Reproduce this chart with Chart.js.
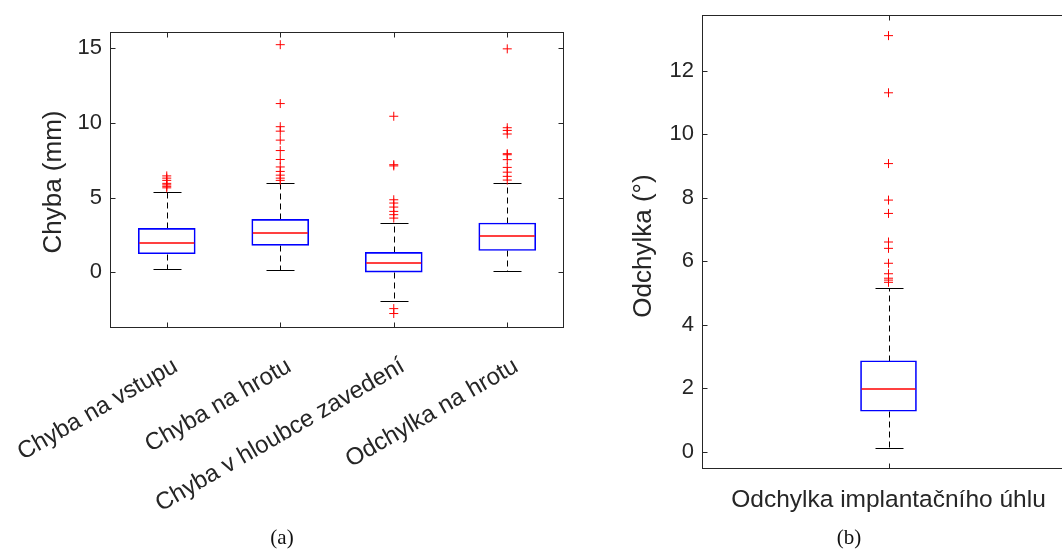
<!DOCTYPE html>
<html>
<head>
<meta charset="utf-8">
<script src="https://cdn.jsdelivr.net/npm/chart.js@4.4.1/dist/chart.umd.min.js"></script>
<style>
  html, body { margin: 0; padding: 0; background: #fff; overflow: hidden; }
  #wrap { position: relative; width: 1062px; height: 549px; overflow: hidden; }
  #boxA { position: absolute; left: 0; top: 0; }
  #boxB { position: absolute; left: 600px; top: 0; }
  .cap { position: absolute; top: 525px; width: 80px; text-align: center;
         font: 21px "Liberation Serif", "DejaVu Serif", serif; color: #111; }
</style>
</head>
<body>
<div id="wrap">
  <canvas id="boxA" width="600" height="549"></canvas>
  <canvas id="boxB" width="490" height="549"></canvas>
  <div class="cap" style="left:242px">(a)</div>
  <div class="cap" style="left:809px">(b)</div>
</div>
<script>
// --- (a) chyby polohy ---
const labelsA = ['Chyba na vstupu', 'Chyba na hrotu', 'Chyba v hloubce zavedení', 'Odchylka na hrotu'];
const q1A = [1.23, 1.79, 0.0, 1.45];
const medA = [1.92, 2.62, 0.62, 2.42];
const q3A = [2.93, 3.53, 1.32, 3.29];
const whiskLoA = [0.2, 0.15, -1.97, 0.04];
const whiskHiA = [5.39, 5.97, 3.29, 5.97];
const outliersA = [
  [6.45, 6.3, 6.15, 5.95, 5.85, 5.75, 5.65],
  [15.25, 11.3, 9.75, 9.45, 8.85, 8.15, 7.55, 7.05, 6.75, 6.5, 6.3, 6.15],
  [10.45, 7.2, 7.12, 4.85, 4.63, 4.36, 4.07, 3.85, 3.62, -2.45, -2.78],
  [14.97, 9.68, 9.5, 9.26, 7.94, 7.87, 7.54, 7.02, 6.7, 6.42, 6.17]
];
const yTicksA = [0, 5, 10, 15];
const yRangeA = [-3.75, 16.1];

// --- (b) odchylka uhlu ---
const labelsB = ['Odchylka implantačního úhlu'];
const q1B = [1.27];
const medB = [1.97];
const q3B = [2.86];
const whiskLoB = [0.1];
const whiskHiB = [5.16];
const outliersB = [
  [13.1, 11.3, 9.07, 7.92, 7.5, 6.6, 6.4, 5.93, 5.6, 5.46, 5.4, 5.33]
];
const yTicksB = [0, 2, 4, 6, 8, 10, 12];
const yRangeB = [-0.55, 13.75];

const FONT = '"Liberation Sans", Arial, Helvetica, sans-serif';
const AXIS_COLOR = '#262626';

// whiskers, caps, medians, axes box and y label (matlab style)
function boxParts(stats) {
  return {
    id: 'boxParts',
    beforeDatasetsDraw(chart) {
      const { ctx, scales: { x, y } } = chart;
      ctx.save();
      ctx.strokeStyle = '#000';
      ctx.lineWidth = 1;
      stats.labels.forEach((lab, i) => {
        const px = Math.round(x.getPixelForValue(i)) + 0.5;
        const py = v => Math.round(y.getPixelForValue(v)) + 0.5;
        ctx.setLineDash([6, 4]);
        ctx.beginPath();
        ctx.moveTo(px, py(stats.q3[i]));
        ctx.lineTo(px, py(stats.hi[i]));
        ctx.moveTo(px, py(stats.q1[i]));
        ctx.lineTo(px, py(stats.lo[i]));
        ctx.stroke();
        ctx.setLineDash([]);
        ctx.beginPath();
        ctx.moveTo(px - stats.capHalf, py(stats.hi[i]));
        ctx.lineTo(px + stats.capHalf, py(stats.hi[i]));
        ctx.moveTo(px - stats.capHalf, py(stats.lo[i]));
        ctx.lineTo(px + stats.capHalf, py(stats.lo[i]));
        ctx.stroke();
      });
      ctx.restore();
    },
    afterDatasetsDraw(chart) {
      const { ctx, scales: { x, y } } = chart;
      ctx.save();
      ctx.strokeStyle = '#ff0000';
      ctx.lineWidth = 1.6;
      stats.labels.forEach((lab, i) => {
        const px = x.getPixelForValue(i);
        const my = Math.round(y.getPixelForValue(stats.med[i]));
        ctx.beginPath();
        ctx.moveTo(px - stats.boxHalf + 1, my);
        ctx.lineTo(px + stats.boxHalf - 1, my);
        ctx.stroke();
      });
      ctx.restore();
    },
    afterDraw(chart) {
      const { ctx, chartArea: a, scales: { x, y } } = chart;
      const L = Math.round(a.left) + 0.5, R = Math.round(a.right) - 0.5;
      const T = Math.round(a.top) + 0.5, B = Math.round(a.bottom) - 0.5;
      const tl = 5;
      ctx.save();
      ctx.strokeStyle = AXIS_COLOR;
      ctx.lineWidth = 1;
      ctx.strokeRect(L, T, R - L, B - T);
      ctx.beginPath();
      y.ticks.forEach(t => {
        const ty = Math.round(y.getPixelForValue(t.value)) + 0.5;
        ctx.moveTo(L, ty); ctx.lineTo(L + tl, ty);
        ctx.moveTo(R, ty); ctx.lineTo(R - tl, ty);
      });
      stats.labels.forEach((lab, i) => {
        const tx = Math.round(x.getPixelForValue(i)) + 0.5;
        ctx.moveTo(tx, B); ctx.lineTo(tx, B - tl);
        ctx.moveTo(tx, T); ctx.lineTo(tx, T + tl);
      });
      ctx.stroke();

      // y axis label, rotated
      ctx.translate(stats.titleX, (a.top + a.bottom) / 2 + stats.titleShift);
      ctx.rotate(-Math.PI / 2);
      ctx.fillStyle = AXIS_COLOR;
      ctx.font = '26px ' + FONT;
      ctx.textAlign = 'center';
      ctx.textBaseline = 'middle';
      ctx.fillText(stats.yTitle, 0, 0);
      ctx.restore();
    }
  };
}

function makeBoxChart(id, s) {
  const outlierPts = [];
  s.outliers.forEach((list, i) => list.forEach(v => outlierPts.push({ x: s.labels[i], y: v })));

  return new Chart(document.getElementById(id), {
    type: 'bar',
    data: {
      labels: s.labels,
      datasets: [
        {
          type: 'bar',
          data: s.labels.map((l, i) => [s.q1[i], s.q3[i]]),
          backgroundColor: 'rgba(0,0,0,0)',
          borderColor: '#0000ff',
          borderWidth: 1,
          borderSkipped: false,
          barThickness: s.boxHalf * 2
        },
        {
          type: 'scatter',
          data: outlierPts,
          pointStyle: 'cross',
          pointRadius: 4.5,
          pointBorderWidth: 1,
          borderColor: '#ff0000',
          backgroundColor: '#ff0000',
          showLine: false
        }
      ]
    },
    options: {
      responsive: false,
      animation: false,
      layout: { padding: s.padding },
      plugins: { legend: { display: false }, tooltip: { enabled: false } },
      scales: {
        x: {
          type: 'category',
          offset: true,
          grid: { display: false, drawTicks: false },
          border: { display: false },
          afterFit: sc => {
            sc.height = s.xHeight;
            sc.paddingLeft = 0;
            sc.paddingRight = 0;
          },
          ticks: {
            color: AXIS_COLOR,
            font: { family: FONT, size: s.xFont },
            minRotation: s.rot,
            maxRotation: s.rot,
            autoSkip: false,
            padding: s.xPad,
            labelOffset: s.xShift
          }
        },
        y: {
          min: s.range[0],
          max: s.range[1],
          grid: { display: false, drawTicks: false },
          border: { display: false },
          afterFit: sc => {
            sc.width = s.yWidth;
            sc.paddingTop = 0;
            sc.paddingBottom = 0;
          },
          afterBuildTicks: sc => { sc.ticks = s.yTicks.map(v => ({ value: v })); },
          ticks: {
            color: AXIS_COLOR,
            font: { family: FONT, size: 22 },
            padding: 8
          }
        }
      }
    },
    plugins: [boxParts(s)]
  });
}

makeBoxChart('boxA', {
  labels: labelsA, q1: q1A, med: medA, q3: q3A, lo: whiskLoA, hi: whiskHiA,
  outliers: outliersA, yTicks: yTicksA, range: yRangeA, yTitle: 'Chyba (mm)',
  padding: { top: 32, right: 36, left: 0, bottom: 0 },
  yWidth: 110, xHeight: 221, xFont: 24, rot: 30, xPad: 24, xShift: 9,
  titleX: 54, titleShift: 2, boxHalf: 28.5, capHalf: 14
});

makeBoxChart('boxB', {
  labels: labelsB, q1: q1B, med: medB, q3: q3B, lo: whiskLoB, hi: whiskHiB,
  outliers: outliersB, yTicks: yTicksB, range: yRangeB, yTitle: 'Odchylka (°)',
  padding: { top: 15, right: 15, left: 0, bottom: 0 },
  yWidth: 102, xHeight: 80, xFont: 24.5, rot: 0, xPad: 17, xShift: 0,
  titleX: 44, titleShift: 4, boxHalf: 28, capHalf: 14
});
</script>
</body>
</html>
